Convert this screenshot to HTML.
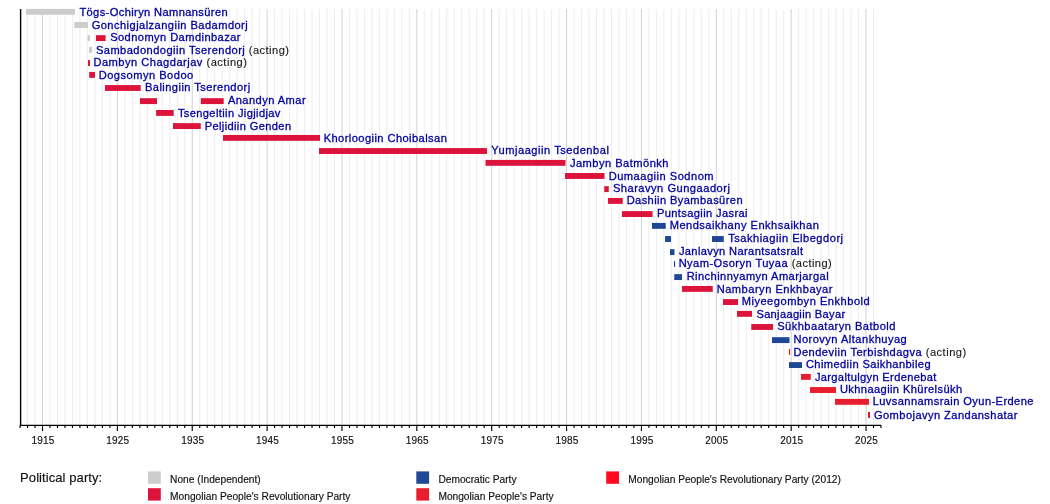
<!DOCTYPE html>
<html lang="en"><head><meta charset="utf-8"><title>Prime Ministers of Mongolia timeline</title>
<style>
html,body{margin:0;padding:0;background:#fff;}
body{width:1050px;height:504px;overflow:hidden;}
svg{display:block;font-family:"Liberation Sans",sans-serif;}
.n{font-size:11.1px;fill:#0000a2;stroke:#0000a2;stroke-width:0.3px;}
.a{fill:#161616;stroke:#161616;stroke-width:0.12px;}
.y{font-size:10px;fill:#111;text-anchor:middle;stroke:#111;stroke-width:0.15px;}
.l{font-size:10.2px;fill:#111;stroke:#111;stroke-width:0.15px;}
.t{font-size:13px;fill:#111;stroke:#111;stroke-width:0.15px;}
</style></head><body>
<svg width="1050" height="504" viewBox="0 0 1050 504">
<rect width="1050" height="504" fill="#fff"/>
<g><line x1="27.54" y1="9" x2="27.54" y2="425.3" stroke="#e9e9e9" stroke-width="0.8"/>
<line x1="35.02" y1="9" x2="35.02" y2="425.3" stroke="#e9e9e9" stroke-width="0.8"/>
<line x1="42.51" y1="9" x2="42.51" y2="425.3" stroke="#c6c6c6" stroke-width="0.8"/>
<line x1="50.00" y1="9" x2="50.00" y2="425.3" stroke="#e9e9e9" stroke-width="0.8"/>
<line x1="57.48" y1="9" x2="57.48" y2="425.3" stroke="#e9e9e9" stroke-width="0.8"/>
<line x1="64.97" y1="9" x2="64.97" y2="425.3" stroke="#e9e9e9" stroke-width="0.8"/>
<line x1="72.46" y1="9" x2="72.46" y2="425.3" stroke="#e9e9e9" stroke-width="0.8"/>
<line x1="79.94" y1="9" x2="79.94" y2="425.3" stroke="#e9e9e9" stroke-width="0.8"/>
<line x1="87.43" y1="9" x2="87.43" y2="425.3" stroke="#e9e9e9" stroke-width="0.8"/>
<line x1="94.92" y1="9" x2="94.92" y2="425.3" stroke="#e9e9e9" stroke-width="0.8"/>
<line x1="102.40" y1="9" x2="102.40" y2="425.3" stroke="#e9e9e9" stroke-width="0.8"/>
<line x1="109.89" y1="9" x2="109.89" y2="425.3" stroke="#e9e9e9" stroke-width="0.8"/>
<line x1="117.37" y1="9" x2="117.37" y2="425.3" stroke="#c6c6c6" stroke-width="0.8"/>
<line x1="124.86" y1="9" x2="124.86" y2="425.3" stroke="#e9e9e9" stroke-width="0.8"/>
<line x1="132.35" y1="9" x2="132.35" y2="425.3" stroke="#e9e9e9" stroke-width="0.8"/>
<line x1="139.83" y1="9" x2="139.83" y2="425.3" stroke="#e9e9e9" stroke-width="0.8"/>
<line x1="147.32" y1="9" x2="147.32" y2="425.3" stroke="#e9e9e9" stroke-width="0.8"/>
<line x1="154.81" y1="9" x2="154.81" y2="425.3" stroke="#e9e9e9" stroke-width="0.8"/>
<line x1="162.29" y1="9" x2="162.29" y2="425.3" stroke="#e9e9e9" stroke-width="0.8"/>
<line x1="169.78" y1="9" x2="169.78" y2="425.3" stroke="#e9e9e9" stroke-width="0.8"/>
<line x1="177.27" y1="9" x2="177.27" y2="425.3" stroke="#e9e9e9" stroke-width="0.8"/>
<line x1="184.75" y1="9" x2="184.75" y2="425.3" stroke="#e9e9e9" stroke-width="0.8"/>
<line x1="192.24" y1="9" x2="192.24" y2="425.3" stroke="#c6c6c6" stroke-width="0.8"/>
<line x1="199.73" y1="9" x2="199.73" y2="425.3" stroke="#e9e9e9" stroke-width="0.8"/>
<line x1="207.21" y1="9" x2="207.21" y2="425.3" stroke="#e9e9e9" stroke-width="0.8"/>
<line x1="214.70" y1="9" x2="214.70" y2="425.3" stroke="#e9e9e9" stroke-width="0.8"/>
<line x1="222.19" y1="9" x2="222.19" y2="425.3" stroke="#e9e9e9" stroke-width="0.8"/>
<line x1="229.67" y1="9" x2="229.67" y2="425.3" stroke="#e9e9e9" stroke-width="0.8"/>
<line x1="237.16" y1="9" x2="237.16" y2="425.3" stroke="#e9e9e9" stroke-width="0.8"/>
<line x1="244.65" y1="9" x2="244.65" y2="425.3" stroke="#e9e9e9" stroke-width="0.8"/>
<line x1="252.13" y1="9" x2="252.13" y2="425.3" stroke="#e9e9e9" stroke-width="0.8"/>
<line x1="259.62" y1="9" x2="259.62" y2="425.3" stroke="#e9e9e9" stroke-width="0.8"/>
<line x1="267.10" y1="9" x2="267.10" y2="425.3" stroke="#c6c6c6" stroke-width="0.8"/>
<line x1="274.59" y1="9" x2="274.59" y2="425.3" stroke="#e9e9e9" stroke-width="0.8"/>
<line x1="282.08" y1="9" x2="282.08" y2="425.3" stroke="#e9e9e9" stroke-width="0.8"/>
<line x1="289.56" y1="9" x2="289.56" y2="425.3" stroke="#e9e9e9" stroke-width="0.8"/>
<line x1="297.05" y1="9" x2="297.05" y2="425.3" stroke="#e9e9e9" stroke-width="0.8"/>
<line x1="304.54" y1="9" x2="304.54" y2="425.3" stroke="#e9e9e9" stroke-width="0.8"/>
<line x1="312.02" y1="9" x2="312.02" y2="425.3" stroke="#e9e9e9" stroke-width="0.8"/>
<line x1="319.51" y1="9" x2="319.51" y2="425.3" stroke="#e9e9e9" stroke-width="0.8"/>
<line x1="327.00" y1="9" x2="327.00" y2="425.3" stroke="#e9e9e9" stroke-width="0.8"/>
<line x1="334.48" y1="9" x2="334.48" y2="425.3" stroke="#e9e9e9" stroke-width="0.8"/>
<line x1="341.97" y1="9" x2="341.97" y2="425.3" stroke="#c6c6c6" stroke-width="0.8"/>
<line x1="349.46" y1="9" x2="349.46" y2="425.3" stroke="#e9e9e9" stroke-width="0.8"/>
<line x1="356.94" y1="9" x2="356.94" y2="425.3" stroke="#e9e9e9" stroke-width="0.8"/>
<line x1="364.43" y1="9" x2="364.43" y2="425.3" stroke="#e9e9e9" stroke-width="0.8"/>
<line x1="371.92" y1="9" x2="371.92" y2="425.3" stroke="#e9e9e9" stroke-width="0.8"/>
<line x1="379.40" y1="9" x2="379.40" y2="425.3" stroke="#e9e9e9" stroke-width="0.8"/>
<line x1="386.89" y1="9" x2="386.89" y2="425.3" stroke="#e9e9e9" stroke-width="0.8"/>
<line x1="394.38" y1="9" x2="394.38" y2="425.3" stroke="#e9e9e9" stroke-width="0.8"/>
<line x1="401.86" y1="9" x2="401.86" y2="425.3" stroke="#e9e9e9" stroke-width="0.8"/>
<line x1="409.35" y1="9" x2="409.35" y2="425.3" stroke="#e9e9e9" stroke-width="0.8"/>
<line x1="416.83" y1="9" x2="416.83" y2="425.3" stroke="#c6c6c6" stroke-width="0.8"/>
<line x1="424.32" y1="9" x2="424.32" y2="425.3" stroke="#e9e9e9" stroke-width="0.8"/>
<line x1="431.81" y1="9" x2="431.81" y2="425.3" stroke="#e9e9e9" stroke-width="0.8"/>
<line x1="439.29" y1="9" x2="439.29" y2="425.3" stroke="#e9e9e9" stroke-width="0.8"/>
<line x1="446.78" y1="9" x2="446.78" y2="425.3" stroke="#e9e9e9" stroke-width="0.8"/>
<line x1="454.27" y1="9" x2="454.27" y2="425.3" stroke="#e9e9e9" stroke-width="0.8"/>
<line x1="461.75" y1="9" x2="461.75" y2="425.3" stroke="#e9e9e9" stroke-width="0.8"/>
<line x1="469.24" y1="9" x2="469.24" y2="425.3" stroke="#e9e9e9" stroke-width="0.8"/>
<line x1="476.73" y1="9" x2="476.73" y2="425.3" stroke="#e9e9e9" stroke-width="0.8"/>
<line x1="484.21" y1="9" x2="484.21" y2="425.3" stroke="#e9e9e9" stroke-width="0.8"/>
<line x1="491.70" y1="9" x2="491.70" y2="425.3" stroke="#c6c6c6" stroke-width="0.8"/>
<line x1="499.19" y1="9" x2="499.19" y2="425.3" stroke="#e9e9e9" stroke-width="0.8"/>
<line x1="506.67" y1="9" x2="506.67" y2="425.3" stroke="#e9e9e9" stroke-width="0.8"/>
<line x1="514.16" y1="9" x2="514.16" y2="425.3" stroke="#e9e9e9" stroke-width="0.8"/>
<line x1="521.65" y1="9" x2="521.65" y2="425.3" stroke="#e9e9e9" stroke-width="0.8"/>
<line x1="529.13" y1="9" x2="529.13" y2="425.3" stroke="#e9e9e9" stroke-width="0.8"/>
<line x1="536.62" y1="9" x2="536.62" y2="425.3" stroke="#e9e9e9" stroke-width="0.8"/>
<line x1="544.11" y1="9" x2="544.11" y2="425.3" stroke="#e9e9e9" stroke-width="0.8"/>
<line x1="551.59" y1="9" x2="551.59" y2="425.3" stroke="#e9e9e9" stroke-width="0.8"/>
<line x1="559.08" y1="9" x2="559.08" y2="425.3" stroke="#e9e9e9" stroke-width="0.8"/>
<line x1="566.56" y1="9" x2="566.56" y2="425.3" stroke="#c6c6c6" stroke-width="0.8"/>
<line x1="574.05" y1="9" x2="574.05" y2="425.3" stroke="#e9e9e9" stroke-width="0.8"/>
<line x1="581.54" y1="9" x2="581.54" y2="425.3" stroke="#e9e9e9" stroke-width="0.8"/>
<line x1="589.02" y1="9" x2="589.02" y2="425.3" stroke="#e9e9e9" stroke-width="0.8"/>
<line x1="596.51" y1="9" x2="596.51" y2="425.3" stroke="#e9e9e9" stroke-width="0.8"/>
<line x1="604.00" y1="9" x2="604.00" y2="425.3" stroke="#e9e9e9" stroke-width="0.8"/>
<line x1="611.48" y1="9" x2="611.48" y2="425.3" stroke="#e9e9e9" stroke-width="0.8"/>
<line x1="618.97" y1="9" x2="618.97" y2="425.3" stroke="#e9e9e9" stroke-width="0.8"/>
<line x1="626.46" y1="9" x2="626.46" y2="425.3" stroke="#e9e9e9" stroke-width="0.8"/>
<line x1="633.94" y1="9" x2="633.94" y2="425.3" stroke="#e9e9e9" stroke-width="0.8"/>
<line x1="641.43" y1="9" x2="641.43" y2="425.3" stroke="#c6c6c6" stroke-width="0.8"/>
<line x1="648.92" y1="9" x2="648.92" y2="425.3" stroke="#e9e9e9" stroke-width="0.8"/>
<line x1="656.40" y1="9" x2="656.40" y2="425.3" stroke="#e9e9e9" stroke-width="0.8"/>
<line x1="663.89" y1="9" x2="663.89" y2="425.3" stroke="#e9e9e9" stroke-width="0.8"/>
<line x1="671.38" y1="9" x2="671.38" y2="425.3" stroke="#e9e9e9" stroke-width="0.8"/>
<line x1="678.86" y1="9" x2="678.86" y2="425.3" stroke="#e9e9e9" stroke-width="0.8"/>
<line x1="686.35" y1="9" x2="686.35" y2="425.3" stroke="#e9e9e9" stroke-width="0.8"/>
<line x1="693.84" y1="9" x2="693.84" y2="425.3" stroke="#e9e9e9" stroke-width="0.8"/>
<line x1="701.32" y1="9" x2="701.32" y2="425.3" stroke="#e9e9e9" stroke-width="0.8"/>
<line x1="708.81" y1="9" x2="708.81" y2="425.3" stroke="#e9e9e9" stroke-width="0.8"/>
<line x1="716.29" y1="9" x2="716.29" y2="425.3" stroke="#c6c6c6" stroke-width="0.8"/>
<line x1="723.78" y1="9" x2="723.78" y2="425.3" stroke="#e9e9e9" stroke-width="0.8"/>
<line x1="731.27" y1="9" x2="731.27" y2="425.3" stroke="#e9e9e9" stroke-width="0.8"/>
<line x1="738.75" y1="9" x2="738.75" y2="425.3" stroke="#e9e9e9" stroke-width="0.8"/>
<line x1="746.24" y1="9" x2="746.24" y2="425.3" stroke="#e9e9e9" stroke-width="0.8"/>
<line x1="753.73" y1="9" x2="753.73" y2="425.3" stroke="#e9e9e9" stroke-width="0.8"/>
<line x1="761.21" y1="9" x2="761.21" y2="425.3" stroke="#e9e9e9" stroke-width="0.8"/>
<line x1="768.70" y1="9" x2="768.70" y2="425.3" stroke="#e9e9e9" stroke-width="0.8"/>
<line x1="776.19" y1="9" x2="776.19" y2="425.3" stroke="#e9e9e9" stroke-width="0.8"/>
<line x1="783.67" y1="9" x2="783.67" y2="425.3" stroke="#e9e9e9" stroke-width="0.8"/>
<line x1="791.16" y1="9" x2="791.16" y2="425.3" stroke="#c6c6c6" stroke-width="0.8"/>
<line x1="798.65" y1="9" x2="798.65" y2="425.3" stroke="#e9e9e9" stroke-width="0.8"/>
<line x1="806.13" y1="9" x2="806.13" y2="425.3" stroke="#e9e9e9" stroke-width="0.8"/>
<line x1="813.62" y1="9" x2="813.62" y2="425.3" stroke="#e9e9e9" stroke-width="0.8"/>
<line x1="821.11" y1="9" x2="821.11" y2="425.3" stroke="#e9e9e9" stroke-width="0.8"/>
<line x1="828.59" y1="9" x2="828.59" y2="425.3" stroke="#e9e9e9" stroke-width="0.8"/>
<line x1="836.08" y1="9" x2="836.08" y2="425.3" stroke="#e9e9e9" stroke-width="0.8"/>
<line x1="843.56" y1="9" x2="843.56" y2="425.3" stroke="#e9e9e9" stroke-width="0.8"/>
<line x1="851.05" y1="9" x2="851.05" y2="425.3" stroke="#e9e9e9" stroke-width="0.8"/>
<line x1="858.54" y1="9" x2="858.54" y2="425.3" stroke="#e9e9e9" stroke-width="0.8"/>
<line x1="866.02" y1="9" x2="866.02" y2="425.3" stroke="#c6c6c6" stroke-width="0.8"/>
<line x1="873.51" y1="9" x2="873.51" y2="425.3" stroke="#e9e9e9" stroke-width="0.8"/></g>
<g><rect x="26.00" y="8.88" width="49.00" height="5.9" fill="#cccccc"/>
<rect x="74.30" y="22.02" width="13.70" height="5.9" fill="#cccccc"/>
<rect x="87.50" y="35.15" width="2.50" height="5.9" fill="#cccccc"/>
<rect x="96.00" y="35.15" width="9.60" height="5.9" fill="#dc143c"/>
<rect x="89.00" y="46.97" width="3.20" height="5.9" fill="#cccccc"/>
<rect x="88.00" y="60.10" width="2.00" height="5.9" fill="#dc143c"/>
<rect x="89.20" y="71.92" width="5.80" height="5.9" fill="#dc143c"/>
<rect x="105.00" y="85.05" width="35.70" height="5.9" fill="#dc143c"/>
<rect x="140.00" y="98.18" width="17.00" height="5.9" fill="#dc143c"/>
<rect x="200.80" y="98.18" width="22.90" height="5.9" fill="#dc143c"/>
<rect x="156.10" y="110.00" width="17.60" height="5.9" fill="#dc143c"/>
<rect x="173.00" y="123.13" width="27.75" height="5.9" fill="#dc143c"/>
<rect x="223.00" y="134.95" width="97.00" height="5.9" fill="#dc143c"/>
<rect x="319.00" y="148.08" width="168.00" height="5.9" fill="#dc143c"/>
<rect x="485.50" y="159.90" width="80.00" height="5.9" fill="#dc143c"/>
<rect x="565.00" y="173.03" width="39.50" height="5.9" fill="#dc143c"/>
<rect x="604.25" y="186.16" width="4.50" height="5.9" fill="#dc143c"/>
<rect x="608.00" y="197.98" width="14.75" height="5.9" fill="#dc143c"/>
<rect x="622.00" y="211.11" width="30.60" height="5.9" fill="#dc143c"/>
<rect x="652.00" y="222.93" width="13.75" height="5.9" fill="#1e4796"/>
<rect x="665.10" y="236.06" width="5.90" height="5.9" fill="#1e4796"/>
<rect x="712.00" y="236.06" width="11.75" height="5.9" fill="#1e4796"/>
<rect x="670.00" y="249.19" width="4.50" height="5.9" fill="#1e4796"/>
<rect x="674.00" y="261.01" width="1.10" height="5.9" fill="#1e4796"/>
<rect x="674.25" y="274.14" width="7.75" height="5.9" fill="#1e4796"/>
<rect x="682.00" y="285.96" width="30.75" height="5.9" fill="#dc143c"/>
<rect x="723.00" y="299.09" width="15.00" height="5.9" fill="#dc143c"/>
<rect x="737.00" y="310.91" width="15.00" height="5.9" fill="#dc143c"/>
<rect x="751.25" y="324.04" width="21.75" height="5.9" fill="#dc143c"/>
<rect x="772.00" y="337.17" width="17.50" height="5.9" fill="#1e4796"/>
<rect x="788.90" y="348.99" width="1.20" height="5.9" fill="#e61e2d"/>
<rect x="789.00" y="362.12" width="13.00" height="5.9" fill="#1e4796"/>
<rect x="801.00" y="373.94" width="9.75" height="5.9" fill="#e61e2d"/>
<rect x="810.00" y="387.07" width="26.00" height="5.9" fill="#e61e2d"/>
<rect x="835.00" y="398.89" width="34.00" height="5.9" fill="#e61e2d"/>
<rect x="868.00" y="412.02" width="2.00" height="5.9" fill="#dc143c"/></g>
<g><line x1="20.6" y1="9" x2="20.6" y2="426.0" stroke="#000" stroke-width="1.4"/>
<line x1="19.9" y1="425.40000000000003" x2="881" y2="425.40000000000003" stroke="#000" stroke-width="1.4"/>
<line x1="20.05" y1="425.3" x2="20.05" y2="428.0" stroke="#000" stroke-width="1.15"/>
<line x1="27.54" y1="425.3" x2="27.54" y2="428.0" stroke="#000" stroke-width="1.15"/>
<line x1="35.02" y1="425.3" x2="35.02" y2="428.0" stroke="#000" stroke-width="1.15"/>
<line x1="42.51" y1="425.3" x2="42.51" y2="430.90000000000003" stroke="#000" stroke-width="1.15"/>
<line x1="50.00" y1="425.3" x2="50.00" y2="428.0" stroke="#000" stroke-width="1.15"/>
<line x1="57.48" y1="425.3" x2="57.48" y2="428.0" stroke="#000" stroke-width="1.15"/>
<line x1="64.97" y1="425.3" x2="64.97" y2="428.0" stroke="#000" stroke-width="1.15"/>
<line x1="72.46" y1="425.3" x2="72.46" y2="428.0" stroke="#000" stroke-width="1.15"/>
<line x1="79.94" y1="425.3" x2="79.94" y2="428.0" stroke="#000" stroke-width="1.15"/>
<line x1="87.43" y1="425.3" x2="87.43" y2="428.0" stroke="#000" stroke-width="1.15"/>
<line x1="94.92" y1="425.3" x2="94.92" y2="428.0" stroke="#000" stroke-width="1.15"/>
<line x1="102.40" y1="425.3" x2="102.40" y2="428.0" stroke="#000" stroke-width="1.15"/>
<line x1="109.89" y1="425.3" x2="109.89" y2="428.0" stroke="#000" stroke-width="1.15"/>
<line x1="117.37" y1="425.3" x2="117.37" y2="430.90000000000003" stroke="#000" stroke-width="1.15"/>
<line x1="124.86" y1="425.3" x2="124.86" y2="428.0" stroke="#000" stroke-width="1.15"/>
<line x1="132.35" y1="425.3" x2="132.35" y2="428.0" stroke="#000" stroke-width="1.15"/>
<line x1="139.83" y1="425.3" x2="139.83" y2="428.0" stroke="#000" stroke-width="1.15"/>
<line x1="147.32" y1="425.3" x2="147.32" y2="428.0" stroke="#000" stroke-width="1.15"/>
<line x1="154.81" y1="425.3" x2="154.81" y2="428.0" stroke="#000" stroke-width="1.15"/>
<line x1="162.29" y1="425.3" x2="162.29" y2="428.0" stroke="#000" stroke-width="1.15"/>
<line x1="169.78" y1="425.3" x2="169.78" y2="428.0" stroke="#000" stroke-width="1.15"/>
<line x1="177.27" y1="425.3" x2="177.27" y2="428.0" stroke="#000" stroke-width="1.15"/>
<line x1="184.75" y1="425.3" x2="184.75" y2="428.0" stroke="#000" stroke-width="1.15"/>
<line x1="192.24" y1="425.3" x2="192.24" y2="430.90000000000003" stroke="#000" stroke-width="1.15"/>
<line x1="199.73" y1="425.3" x2="199.73" y2="428.0" stroke="#000" stroke-width="1.15"/>
<line x1="207.21" y1="425.3" x2="207.21" y2="428.0" stroke="#000" stroke-width="1.15"/>
<line x1="214.70" y1="425.3" x2="214.70" y2="428.0" stroke="#000" stroke-width="1.15"/>
<line x1="222.19" y1="425.3" x2="222.19" y2="428.0" stroke="#000" stroke-width="1.15"/>
<line x1="229.67" y1="425.3" x2="229.67" y2="428.0" stroke="#000" stroke-width="1.15"/>
<line x1="237.16" y1="425.3" x2="237.16" y2="428.0" stroke="#000" stroke-width="1.15"/>
<line x1="244.65" y1="425.3" x2="244.65" y2="428.0" stroke="#000" stroke-width="1.15"/>
<line x1="252.13" y1="425.3" x2="252.13" y2="428.0" stroke="#000" stroke-width="1.15"/>
<line x1="259.62" y1="425.3" x2="259.62" y2="428.0" stroke="#000" stroke-width="1.15"/>
<line x1="267.10" y1="425.3" x2="267.10" y2="430.90000000000003" stroke="#000" stroke-width="1.15"/>
<line x1="274.59" y1="425.3" x2="274.59" y2="428.0" stroke="#000" stroke-width="1.15"/>
<line x1="282.08" y1="425.3" x2="282.08" y2="428.0" stroke="#000" stroke-width="1.15"/>
<line x1="289.56" y1="425.3" x2="289.56" y2="428.0" stroke="#000" stroke-width="1.15"/>
<line x1="297.05" y1="425.3" x2="297.05" y2="428.0" stroke="#000" stroke-width="1.15"/>
<line x1="304.54" y1="425.3" x2="304.54" y2="428.0" stroke="#000" stroke-width="1.15"/>
<line x1="312.02" y1="425.3" x2="312.02" y2="428.0" stroke="#000" stroke-width="1.15"/>
<line x1="319.51" y1="425.3" x2="319.51" y2="428.0" stroke="#000" stroke-width="1.15"/>
<line x1="327.00" y1="425.3" x2="327.00" y2="428.0" stroke="#000" stroke-width="1.15"/>
<line x1="334.48" y1="425.3" x2="334.48" y2="428.0" stroke="#000" stroke-width="1.15"/>
<line x1="341.97" y1="425.3" x2="341.97" y2="430.90000000000003" stroke="#000" stroke-width="1.15"/>
<line x1="349.46" y1="425.3" x2="349.46" y2="428.0" stroke="#000" stroke-width="1.15"/>
<line x1="356.94" y1="425.3" x2="356.94" y2="428.0" stroke="#000" stroke-width="1.15"/>
<line x1="364.43" y1="425.3" x2="364.43" y2="428.0" stroke="#000" stroke-width="1.15"/>
<line x1="371.92" y1="425.3" x2="371.92" y2="428.0" stroke="#000" stroke-width="1.15"/>
<line x1="379.40" y1="425.3" x2="379.40" y2="428.0" stroke="#000" stroke-width="1.15"/>
<line x1="386.89" y1="425.3" x2="386.89" y2="428.0" stroke="#000" stroke-width="1.15"/>
<line x1="394.38" y1="425.3" x2="394.38" y2="428.0" stroke="#000" stroke-width="1.15"/>
<line x1="401.86" y1="425.3" x2="401.86" y2="428.0" stroke="#000" stroke-width="1.15"/>
<line x1="409.35" y1="425.3" x2="409.35" y2="428.0" stroke="#000" stroke-width="1.15"/>
<line x1="416.83" y1="425.3" x2="416.83" y2="430.90000000000003" stroke="#000" stroke-width="1.15"/>
<line x1="424.32" y1="425.3" x2="424.32" y2="428.0" stroke="#000" stroke-width="1.15"/>
<line x1="431.81" y1="425.3" x2="431.81" y2="428.0" stroke="#000" stroke-width="1.15"/>
<line x1="439.29" y1="425.3" x2="439.29" y2="428.0" stroke="#000" stroke-width="1.15"/>
<line x1="446.78" y1="425.3" x2="446.78" y2="428.0" stroke="#000" stroke-width="1.15"/>
<line x1="454.27" y1="425.3" x2="454.27" y2="428.0" stroke="#000" stroke-width="1.15"/>
<line x1="461.75" y1="425.3" x2="461.75" y2="428.0" stroke="#000" stroke-width="1.15"/>
<line x1="469.24" y1="425.3" x2="469.24" y2="428.0" stroke="#000" stroke-width="1.15"/>
<line x1="476.73" y1="425.3" x2="476.73" y2="428.0" stroke="#000" stroke-width="1.15"/>
<line x1="484.21" y1="425.3" x2="484.21" y2="428.0" stroke="#000" stroke-width="1.15"/>
<line x1="491.70" y1="425.3" x2="491.70" y2="430.90000000000003" stroke="#000" stroke-width="1.15"/>
<line x1="499.19" y1="425.3" x2="499.19" y2="428.0" stroke="#000" stroke-width="1.15"/>
<line x1="506.67" y1="425.3" x2="506.67" y2="428.0" stroke="#000" stroke-width="1.15"/>
<line x1="514.16" y1="425.3" x2="514.16" y2="428.0" stroke="#000" stroke-width="1.15"/>
<line x1="521.65" y1="425.3" x2="521.65" y2="428.0" stroke="#000" stroke-width="1.15"/>
<line x1="529.13" y1="425.3" x2="529.13" y2="428.0" stroke="#000" stroke-width="1.15"/>
<line x1="536.62" y1="425.3" x2="536.62" y2="428.0" stroke="#000" stroke-width="1.15"/>
<line x1="544.11" y1="425.3" x2="544.11" y2="428.0" stroke="#000" stroke-width="1.15"/>
<line x1="551.59" y1="425.3" x2="551.59" y2="428.0" stroke="#000" stroke-width="1.15"/>
<line x1="559.08" y1="425.3" x2="559.08" y2="428.0" stroke="#000" stroke-width="1.15"/>
<line x1="566.56" y1="425.3" x2="566.56" y2="430.90000000000003" stroke="#000" stroke-width="1.15"/>
<line x1="574.05" y1="425.3" x2="574.05" y2="428.0" stroke="#000" stroke-width="1.15"/>
<line x1="581.54" y1="425.3" x2="581.54" y2="428.0" stroke="#000" stroke-width="1.15"/>
<line x1="589.02" y1="425.3" x2="589.02" y2="428.0" stroke="#000" stroke-width="1.15"/>
<line x1="596.51" y1="425.3" x2="596.51" y2="428.0" stroke="#000" stroke-width="1.15"/>
<line x1="604.00" y1="425.3" x2="604.00" y2="428.0" stroke="#000" stroke-width="1.15"/>
<line x1="611.48" y1="425.3" x2="611.48" y2="428.0" stroke="#000" stroke-width="1.15"/>
<line x1="618.97" y1="425.3" x2="618.97" y2="428.0" stroke="#000" stroke-width="1.15"/>
<line x1="626.46" y1="425.3" x2="626.46" y2="428.0" stroke="#000" stroke-width="1.15"/>
<line x1="633.94" y1="425.3" x2="633.94" y2="428.0" stroke="#000" stroke-width="1.15"/>
<line x1="641.43" y1="425.3" x2="641.43" y2="430.90000000000003" stroke="#000" stroke-width="1.15"/>
<line x1="648.92" y1="425.3" x2="648.92" y2="428.0" stroke="#000" stroke-width="1.15"/>
<line x1="656.40" y1="425.3" x2="656.40" y2="428.0" stroke="#000" stroke-width="1.15"/>
<line x1="663.89" y1="425.3" x2="663.89" y2="428.0" stroke="#000" stroke-width="1.15"/>
<line x1="671.38" y1="425.3" x2="671.38" y2="428.0" stroke="#000" stroke-width="1.15"/>
<line x1="678.86" y1="425.3" x2="678.86" y2="428.0" stroke="#000" stroke-width="1.15"/>
<line x1="686.35" y1="425.3" x2="686.35" y2="428.0" stroke="#000" stroke-width="1.15"/>
<line x1="693.84" y1="425.3" x2="693.84" y2="428.0" stroke="#000" stroke-width="1.15"/>
<line x1="701.32" y1="425.3" x2="701.32" y2="428.0" stroke="#000" stroke-width="1.15"/>
<line x1="708.81" y1="425.3" x2="708.81" y2="428.0" stroke="#000" stroke-width="1.15"/>
<line x1="716.29" y1="425.3" x2="716.29" y2="430.90000000000003" stroke="#000" stroke-width="1.15"/>
<line x1="723.78" y1="425.3" x2="723.78" y2="428.0" stroke="#000" stroke-width="1.15"/>
<line x1="731.27" y1="425.3" x2="731.27" y2="428.0" stroke="#000" stroke-width="1.15"/>
<line x1="738.75" y1="425.3" x2="738.75" y2="428.0" stroke="#000" stroke-width="1.15"/>
<line x1="746.24" y1="425.3" x2="746.24" y2="428.0" stroke="#000" stroke-width="1.15"/>
<line x1="753.73" y1="425.3" x2="753.73" y2="428.0" stroke="#000" stroke-width="1.15"/>
<line x1="761.21" y1="425.3" x2="761.21" y2="428.0" stroke="#000" stroke-width="1.15"/>
<line x1="768.70" y1="425.3" x2="768.70" y2="428.0" stroke="#000" stroke-width="1.15"/>
<line x1="776.19" y1="425.3" x2="776.19" y2="428.0" stroke="#000" stroke-width="1.15"/>
<line x1="783.67" y1="425.3" x2="783.67" y2="428.0" stroke="#000" stroke-width="1.15"/>
<line x1="791.16" y1="425.3" x2="791.16" y2="430.90000000000003" stroke="#000" stroke-width="1.15"/>
<line x1="798.65" y1="425.3" x2="798.65" y2="428.0" stroke="#000" stroke-width="1.15"/>
<line x1="806.13" y1="425.3" x2="806.13" y2="428.0" stroke="#000" stroke-width="1.15"/>
<line x1="813.62" y1="425.3" x2="813.62" y2="428.0" stroke="#000" stroke-width="1.15"/>
<line x1="821.11" y1="425.3" x2="821.11" y2="428.0" stroke="#000" stroke-width="1.15"/>
<line x1="828.59" y1="425.3" x2="828.59" y2="428.0" stroke="#000" stroke-width="1.15"/>
<line x1="836.08" y1="425.3" x2="836.08" y2="428.0" stroke="#000" stroke-width="1.15"/>
<line x1="843.56" y1="425.3" x2="843.56" y2="428.0" stroke="#000" stroke-width="1.15"/>
<line x1="851.05" y1="425.3" x2="851.05" y2="428.0" stroke="#000" stroke-width="1.15"/>
<line x1="858.54" y1="425.3" x2="858.54" y2="428.0" stroke="#000" stroke-width="1.15"/>
<line x1="866.02" y1="425.3" x2="866.02" y2="430.90000000000003" stroke="#000" stroke-width="1.15"/>
<line x1="873.51" y1="425.3" x2="873.51" y2="428.0" stroke="#000" stroke-width="1.15"/>
<line x1="881.00" y1="425.3" x2="881.00" y2="428.0" stroke="#000" stroke-width="1.15"/></g>
<g><text class="y" x="42.91" y="443.9" textLength="22.8" lengthAdjust="spacing">1915</text>
<text class="y" x="117.77" y="443.9" textLength="22.8" lengthAdjust="spacing">1925</text>
<text class="y" x="192.64" y="443.9" textLength="22.8" lengthAdjust="spacing">1935</text>
<text class="y" x="267.50" y="443.9" textLength="22.8" lengthAdjust="spacing">1945</text>
<text class="y" x="342.37" y="443.9" textLength="22.8" lengthAdjust="spacing">1955</text>
<text class="y" x="417.23" y="443.9" textLength="22.8" lengthAdjust="spacing">1965</text>
<text class="y" x="492.10" y="443.9" textLength="22.8" lengthAdjust="spacing">1975</text>
<text class="y" x="566.96" y="443.9" textLength="22.8" lengthAdjust="spacing">1985</text>
<text class="y" x="641.83" y="443.9" textLength="22.8" lengthAdjust="spacing">1995</text>
<text class="y" x="716.69" y="443.9" textLength="22.8" lengthAdjust="spacing">2005</text>
<text class="y" x="791.56" y="443.9" textLength="22.8" lengthAdjust="spacing">2015</text>
<text class="y" x="866.42" y="443.9" textLength="22.8" lengthAdjust="spacing">2025</text></g>
<g><text id="r0" class="n" x="79.40" y="15.93" textLength="148.23" lengthAdjust="spacing">Tögs-Ochiryn Namnansüren</text>
<text id="r1" class="n" x="91.65" y="28.77" textLength="156.09" lengthAdjust="spacing">Gonchigjalzangiin Badamdorj</text>
<text id="r2" class="n" x="110.15" y="40.95" textLength="130.33" lengthAdjust="spacing">Sodnomyn Damdinbazar</text>
<text id="r3" class="n" x="95.90" y="53.62" textLength="193.08" lengthAdjust="spacing">Sambadondogiin Tserendorj<tspan class="a"> (acting)</tspan></text>
<text id="r4" class="n" x="93.40" y="65.85" textLength="153.50" lengthAdjust="spacing">Dambyn Chagdarjav<tspan class="a"> (acting)</tspan></text>
<text id="r5" class="n" x="98.65" y="78.87" textLength="94.64" lengthAdjust="spacing">Dogsomyn Bodoo</text>
<text id="r6" class="n" x="144.90" y="90.70" textLength="105.27" lengthAdjust="spacing">Balingiin Tserendorj</text>
<text id="r7" class="n" x="227.90" y="104.07" textLength="77.72" lengthAdjust="spacing">Anandyn Amar</text>
<text id="r8" class="n" x="177.90" y="116.65" textLength="102.48" lengthAdjust="spacing">Tsengeltiin Jigjidjav</text>
<text id="r9" class="n" x="204.65" y="129.58" textLength="86.41" lengthAdjust="spacing">Peljidiin Genden</text>
<text id="r10" class="n" x="323.65" y="141.84" textLength="123.17" lengthAdjust="spacing">Khorloogiin Choibalsan</text>
<text id="r11" class="n" x="491.15" y="154.03" textLength="117.78" lengthAdjust="spacing">Yumjaagiin Tsedenbal</text>
<text id="r12" class="n" x="569.90" y="166.52" textLength="98.64" lengthAdjust="spacing">Jambyn Batmönkh</text>
<text id="r13" class="n" x="608.65" y="179.78" textLength="104.91" lengthAdjust="spacing">Dumaagiin Sodnom</text>
<text id="r14" class="n" x="612.90" y="191.91" textLength="117.00" lengthAdjust="spacing">Sharavyn Gungaadorj</text>
<text id="r15" class="n" x="626.65" y="204.28" textLength="115.91" lengthAdjust="spacing">Dashiin Byambasüren</text>
<text id="r16" class="n" x="656.90" y="216.56" textLength="90.64" lengthAdjust="spacing">Puntsagiin Jasrai</text>
<text id="r17" class="n" x="669.65" y="229.28" textLength="149.19" lengthAdjust="spacing">Mendsaikhany Enkhsaikhan</text>
<text id="r18" class="n" x="728.15" y="241.81" textLength="114.91" lengthAdjust="spacing">Tsakhiagiin Elbegdorj</text>
<text id="r19" class="n" x="678.90" y="254.80" textLength="124.14" lengthAdjust="spacing">Janlavyn Narantsatsralt</text>
<text id="r20" class="n" x="678.65" y="267.46" textLength="153.16" lengthAdjust="spacing">Nyam-Osoryn Tuyaa<tspan class="a"> (acting)</tspan></text>
<text id="r21" class="n" x="686.65" y="280.04" textLength="141.98" lengthAdjust="spacing">Rinchinnyamyn Amarjargal</text>
<text id="r22" class="n" x="716.65" y="292.51" textLength="115.81" lengthAdjust="spacing">Nambaryn Enkhbayar</text>
<text id="r23" class="n" x="741.65" y="304.84" textLength="128.08" lengthAdjust="spacing">Miyeegombyn Enkhbold</text>
<text id="r24" class="n" x="756.40" y="317.96" textLength="88.73" lengthAdjust="spacing">Sanjaagiin Bayar</text>
<text id="r25" class="n" x="777.15" y="330.09" textLength="118.34" lengthAdjust="spacing">Sükhbaataryn Batbold</text>
<text id="r26" class="n" x="793.40" y="342.79" textLength="113.36" lengthAdjust="spacing">Norovyn Altankhuyag</text>
<text id="r27" class="n" x="793.40" y="355.61" textLength="172.73" lengthAdjust="spacing">Dendeviin Terbishdagva<tspan class="a"> (acting)</tspan></text>
<text id="r28" class="n" x="805.90" y="367.67" textLength="124.67" lengthAdjust="spacing">Chimediin Saikhanbileg</text>
<text id="r29" class="n" x="814.90" y="380.84" textLength="121.42" lengthAdjust="spacing">Jargaltulgyn Erdenebat</text>
<text id="r30" class="n" x="839.90" y="392.97" textLength="122.17" lengthAdjust="spacing">Ukhnaagiin Khürelsükh</text>
<text id="r31" class="n" x="872.65" y="404.69" textLength="160.77" lengthAdjust="spacing">Luvsannamsrain Oyun-Erdene</text>
<text id="r32" class="n" x="873.90" y="418.62" textLength="143.50" lengthAdjust="spacing">Gombojavyn Zandanshatar</text></g>
<g><text class="t" x="20.1" y="482" textLength="82.1" lengthAdjust="spacing">Political party:</text>
<rect x="148" y="471.4" width="12.8" height="12.4" fill="#cccccc"/>
<text class="l" x="170.1" y="483.1">None (Independent)</text>
<rect x="148" y="488.2" width="12.8" height="12.4" fill="#dc143c"/>
<text class="l" x="170.1" y="499.9">Mongolian People's Revolutionary Party</text>
<rect x="416.3" y="471.4" width="12.8" height="12.4" fill="#1e4796"/>
<text class="l" x="438.4" y="483.1">Democratic Party</text>
<rect x="416.3" y="488.2" width="12.8" height="12.4" fill="#e61e2d"/>
<text class="l" x="438.4" y="499.9">Mongolian People's Party</text>
<rect x="606.2" y="471.4" width="12.8" height="12.4" fill="#ff0a1e"/>
<text class="l" x="628.3" y="483.1">Mongolian People's Revolutionary Party (2012)</text></g>
</svg></body></html>
